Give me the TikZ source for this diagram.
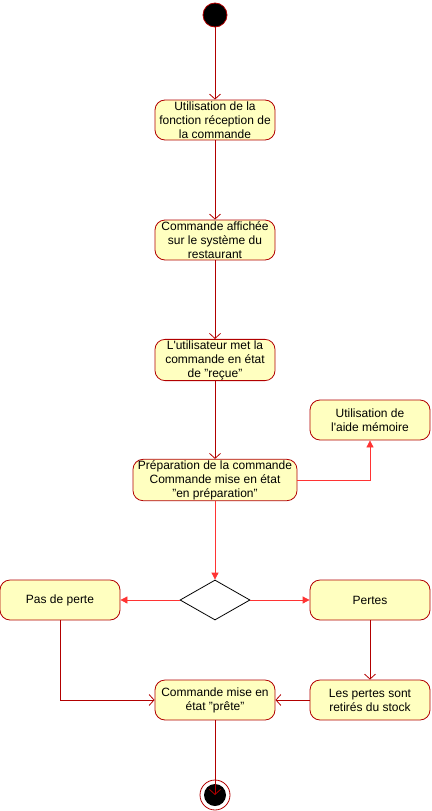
\documentclass[tikz,border=0pt]{standalone}
\usepackage{fontspec}
\setmainfont{Liberation Sans}
\usetikzlibrary{arrows.meta,shapes.geometric}
\definecolor{actfill}{HTML}{FFFFC0}
\definecolor{actline}{HTML}{B20000}
\definecolor{flowred}{HTML}{FF3333}
\begin{document}
\begin{tikzpicture}[x=1pt, y=-1pt, line width=0.8pt,
  every node/.style = {font=\fontsize{12}{14}\selectfont},
  action/.style = {shape=rectangle, rounded corners=10pt, draw=actline,
    fill=actfill, align=center, minimum width=120pt, minimum height=40pt,
    inner sep=1pt},
  flow/.style = {draw=actline, -{Straight Barb[length=5pt,width=11pt]}},
  redflow/.style = {draw=flowred, -{Triangle[length=7pt,width=7pt]}}]
  \useasboundingbox (0,0) rectangle (431,811);
  % activity nodes
  \node[circle, fill=black, draw=actline, minimum size=24pt] (start) at (215,15) {};
  \node[action] (reception) at (215,120) {Utilisation de la\\ fonction réception de\\ la commande};
  \node[action] (affichee) at (215,240) {Commande affichée\\ sur le système du\\ restaurant};
  \node[action] (recue) at (215,360) {L\textquotesingle utilisateur met la\\ commande en état\\ de "reçue"};
  \node[action, minimum width=164pt] (preparation) at (215,480) {Préparation de la commande\\ Commande mise en état\\ "en préparation"};
  \node[action] (aide) at (370,420) {Utilisation de\\ l\textquotesingle aide mémoire};
  \node[diamond, draw=black, fill=white, aspect=1.75, minimum width=70pt,
    minimum height=40pt, inner sep=0pt] (choix) at (215,600) {};
  \node[action] (sansperte) at (60,600) {Pas de perte};
  \node[action] (pertes) at (370,600) {Pertes};
  \node[action] (retires) at (370,700) {Les pertes sont\\ retirés du stock};
  \node[action] (prete) at (215,700) {Commande mise en\\ état "prête"};
  \node[circle, draw=actline, minimum size=30pt] (fin) at (215,795) {};
  \node[circle, fill=black, minimum size=22pt] (finin) at (215,795) {};
  % transitions
  \draw[flow] (start) -- (reception);
  \draw[flow] (reception) -- (affichee);
  \draw[flow] (affichee) -- (recue);
  \draw[flow] (recue) -- (preparation);
  \draw[redflow] (preparation.east) -| (aide.south);
  \draw[redflow] (preparation) -- (choix);
  \draw[redflow] (choix.west) -- (sansperte);
  \draw[redflow] (choix.east) -- (pertes);
  \draw[flow] (pertes) -- (retires);
  \draw[flow] (retires) -- (prete);
  \draw[flow] (sansperte.south) |- (prete.west);
  \draw[flow] (prete) -- (finin.center);
\end{tikzpicture}
\end{document}
